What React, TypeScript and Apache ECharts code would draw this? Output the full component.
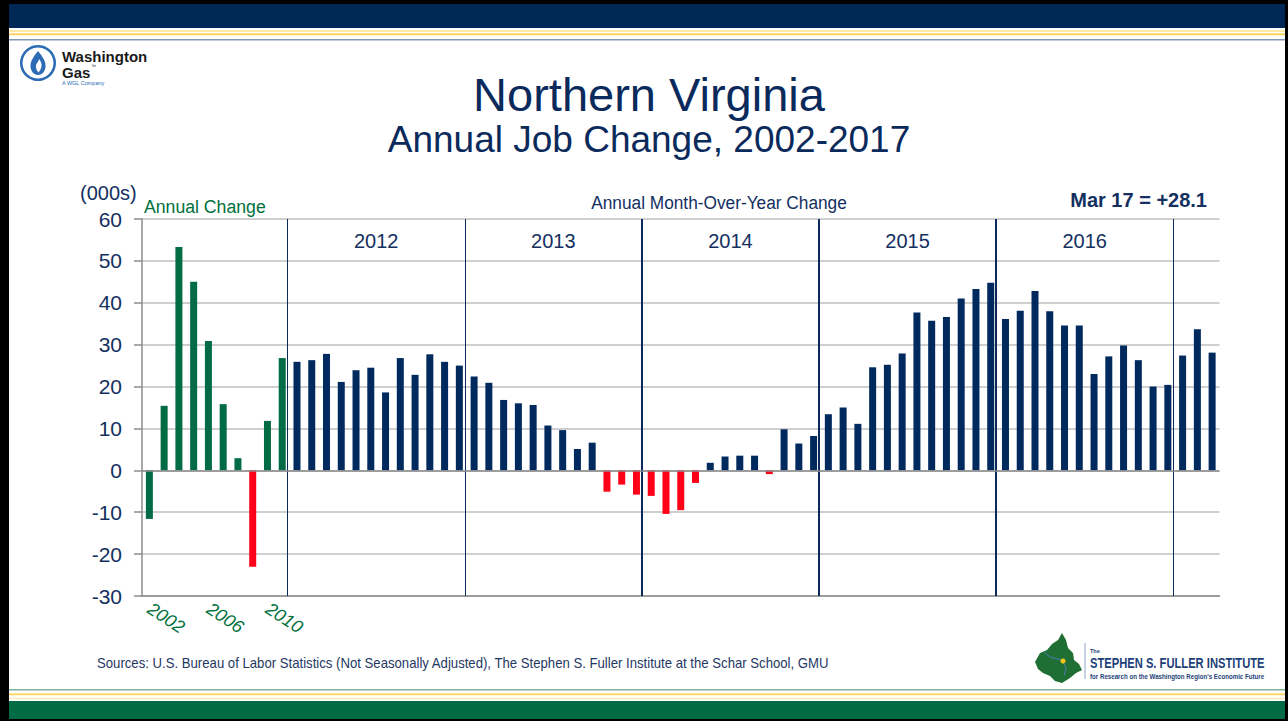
import React, { useEffect, useRef } from "react";
import * as echarts from "echarts";

// ---------- data ----------
const annualYears = ["2002", "2003", "2004", "2005", "2006", "2007", "2008", "2009", "2010", "2011"];
const annualValues = [-11.6, 15.4, 53.3, 45.0, 30.9, 15.8, 2.9, -23.0, 11.8, 26.8];
const redAnnualYears = ["2009"];
const labeledYears = ["2002", "2006", "2010"];

const monthNames = ["Jan", "Feb", "Mar", "Apr", "May", "Jun", "Jul", "Aug", "Sep", "Oct", "Nov", "Dec"];
const monthly2012 = [25.9, 26.3, 27.8, 21.1, 23.9, 24.5, 18.6, 26.8, 22.8, 27.7, 25.9, 25.0];
const monthly2013 = [22.4, 20.9, 16.8, 16.0, 15.6, 10.7, 9.6, 5.1, 6.6, -5.1, -3.4, -5.8];
const monthly2014 = [-6.1, -10.4, -9.5, -3.0, 1.8, 3.3, 3.5, 3.5, -0.9, 9.8, 6.4, 8.2];
const monthly2015 = [13.4, 15.0, 11.1, 24.6, 25.2, 27.9, 37.7, 35.7, 36.6, 41.0, 43.3, 44.8];
const monthly2016 = [36.1, 38.1, 42.8, 38.0, 34.6, 34.6, 23.0, 27.2, 29.8, 26.3, 20.0, 20.4];
const monthly2017 = [27.4, 33.7, 28.1];
const monthlyYears = ["2012", "2013", "2014", "2015", "2016", "2017"];
const monthlySeries = [monthly2012, monthly2013, monthly2014, monthly2015, monthly2016, monthly2017];
const sectionLabels = ["2012", "2013", "2014", "2015", "2016"];

const yTicks = { min: -30, max: 60, interval: 10 };

// ---------- styles ----------
const NAVY = "#002a5e";
const TXT = "#13305f";
const GREEN = "#006b45";
const RED = "#ff0019";
const FONT = "'Liberation Sans', Arial, sans-serif";

export default function App() {
  const ref = useRef<HTMLDivElement>(null);

  useEffect(() => {
    document.body.style.margin = "0";
    if (!ref.current) return;
    const chart = echarts.init(ref.current, undefined, { renderer: "svg" });

    const categories: string[] = [...annualYears];
    const barData: any[] = annualValues.map((v, i) => ({
      value: v,
      itemStyle: { color: redAnnualYears.includes(annualYears[i]) ? RED : GREEN },
    }));
    monthlySeries.forEach((arr, yi) => {
      arr.forEach((v, mi) => {
        categories.push(monthNames[mi] + " " + monthlyYears[yi]);
        barData.push({ value: v, itemStyle: { color: v < 0 ? RED : NAVY } });
      });
    });
    const total = categories.length;

    const off = -0.13;
    const boundaries: number[] = [];
    for (let k = 0; k < monthlySeries.length; k++) {
      boundaries.push(annualYears.length + 12 * k + off);
    }
    const sepWidths = [1, 1, 2, 2, 2, 1];

    const sepLines: any[] = boundaries.map((b, i) => ({
      xAxis: b,
      lineStyle: { color: "#0b2a5c", width: sepWidths[i] ?? 1, type: "solid" },
    }));
    sepLines.push({ yAxis: 0, lineStyle: { color: "#8c8c8c", width: 1.5, type: "solid" } });

    const areas = sectionLabels.map((name, i) => [
      { xAxis: boundaries[i], name },
      { xAxis: boundaries[i + 1] },
    ]);

    const txt = (text: string, x: number, y: number, o: any = {}) => ({
      type: "text",
      x,
      y,
      scaleX: o.scaleX ?? 1,
      style: {
        text,
        fontSize: o.size ?? 14,
        fontFamily: FONT,
        fontWeight: o.weight ?? "normal",
        fontStyle: o.style ?? "normal",
        fill: o.color ?? TXT,
        align: o.align ?? "left",
        verticalAlign: "middle",
        textAlign: o.align ?? "left",
        textVerticalAlign: "middle",
      },
      z: 10,
    });

    echarts.graphic.registerShape(
      "wgFlame",
      echarts.graphic.extendPath(
        "M0,-12 C5,-6 8,-1 7.5,4 C7,9 3.5,12 0,12 C-3.5,12 -7,9 -7.5,4 C-8,-1 -5,-6 0,-12 Z",
        {}
      )
    );
    echarts.graphic.registerShape(
      "wgInner",
      echarts.graphic.extendPath("M1,-5 C4.5,-1 4.5,4 0.5,8.5 C-2,5.5 -3,2 -1,-1 C0,-2.5 1,-3.5 1,-5 Z", {})
    );

    const option: any = {
      animation: false,
      backgroundColor: "#000000",
      grid: { left: 142, right: 68.5, top: 219, bottom: 125, containLabel: false },
      xAxis: [
        {
          type: "category",
          data: categories,
          boundaryGap: true,
          axisLine: { show: true, onZero: false, lineStyle: { color: "#8c8c8c", width: 1.5 } },
          axisTick: { show: false },
          splitLine: { show: false },
          axisLabel: {
            interval: (idx: number) => labeledYears.includes(categories[idx]),
            rotate: -33,
            margin: 11,
            color: "#00703c",
            fontSize: 18,
            fontStyle: "italic",
            fontFamily: FONT,
          },
        },
        { type: "value", min: 0, max: total, show: false },
      ],
      yAxis: {
        type: "value",
        min: yTicks.min,
        max: yTicks.max,
        interval: yTicks.interval,
        axisLine: { show: true, lineStyle: { color: "#8c8c8c", width: 1.5 } },
        axisTick: { show: true, length: 8, lineStyle: { color: "#8c8c8c", width: 1.5 } },
        splitLine: { show: true, lineStyle: { color: "#bfbfbf", width: 1.5 } },
        axisLabel: { color: TXT, fontSize: 21, fontFamily: FONT, margin: 20 },
      },
      series: [
        {
          type: "line",
          xAxisIndex: 1,
          yAxisIndex: 0,
          data: [],
          z: 1,
          markLine: {
            silent: true,
            symbol: "none",
            label: { show: false },
            data: sepLines,
          },
          markArea: {
            silent: true,
            itemStyle: { color: "rgba(0,0,0,0)" },
            label: { show: true, position: "insideTop", distance: 12, color: TXT, fontSize: 20, fontFamily: FONT },
            data: areas,
          },
        },
        {
          type: "bar",
          xAxisIndex: 0,
          yAxisIndex: 0,
          data: barData,
          barWidth: 7,
          z: 3,
        },
      ],
      graphic: [
        { type: "rect", shape: { x: 9, y: 4, width: 1276, height: 715 }, style: { fill: "#ffffff" }, z: -10 },
        { type: "rect", shape: { x: 9, y: 4, width: 1276, height: 24 }, style: { fill: "#002856" }, z: -9 },
        { type: "rect", shape: { x: 9, y: 30, width: 1276, height: 2 }, style: { fill: "#fde8a6" }, z: -9 },
        { type: "rect", shape: { x: 9, y: 33.3, width: 1276, height: 2 }, style: { fill: "#fcd460" }, z: -9 },
        { type: "rect", shape: { x: 9, y: 39, width: 1276, height: 1.5 }, style: { fill: "#8497b0" }, z: -9 },
        { type: "rect", shape: { x: 9, y: 689, width: 1276, height: 1.5 }, style: { fill: "#7fb39a" }, z: -9 },
        { type: "rect", shape: { x: 9, y: 693.3, width: 1276, height: 2 }, style: { fill: "#ffd966" }, z: -9 },
        { type: "rect", shape: { x: 9, y: 697.8, width: 1276, height: 1.5 }, style: { fill: "#fdeab0" }, z: -9 },
        { type: "rect", shape: { x: 9, y: 701, width: 1276, height: 18 }, style: { fill: "#006b44" }, z: -9 },

        // Washington Gas logo
        { type: "ring", shape: { cx: 38, cy: 63, r: 18, r0: 15.5 }, style: { fill: "#2b6cb5" }, z: 10 },
        { type: "wgFlame", x: 38, y: 63, style: { fill: "#2b6cb5" }, z: 10 },
        { type: "wgInner", x: 38, y: 64, style: { fill: "#ffffff" }, z: 11 },
        txt("Washington", 62, 56, { size: 15, weight: "bold", color: "#1a1a1a" }),
        txt("Gas", 62, 72, { size: 15, weight: "bold", color: "#1a1a1a" }),
        txt("™", 91, 66, { size: 5, color: "#1a1a1a" }),
        txt("A WGL Company", 62, 83, { size: 5.5, color: "#2b6cb5" }),

        // Titles
        txt("Northern Virginia", 649, 94, { size: 47, align: "center", color: "#0b2a5c" }),
        txt("Annual Job Change, 2002-2017", 649, 139, { size: 37, align: "center", color: "#0b2a5c" }),

        // Chart annotations
        txt("(000s)", 80, 193, { size: 20 }),
        txt("Annual Change", 144, 206, { size: 19, color: "#00703c", scaleX: 0.93 }),
        txt("Annual Month-Over-Year Change", 719, 203, { size: 18, align: "center", scaleX: 0.96 }),
        txt("Mar 17 = +28.1", 1207, 200, { size: 20, weight: "bold", align: "right" }),

        // Sources
        txt(
          "Sources: U.S. Bureau of Labor Statistics (Not Seasonally Adjusted), The Stephen S. Fuller Institute at the Schar School, GMU",
          97,
          663,
          { size: 14, scaleX: 0.94, color: "#1f3864" }
        ),

        // Fuller Institute logo
        {
          type: "polygon",
          shape: {
            points: [
              [1035, 662], [1040, 653], [1047, 650], [1052, 644], [1058, 640], [1062, 633],
              [1066, 640], [1068, 648], [1073, 653], [1074, 660], [1079, 664], [1082, 670],
              [1076, 673], [1070, 678], [1062, 683], [1055, 681], [1050, 676], [1043, 673], [1038, 669],
            ],
          },
          style: { fill: "#1f6f35" },
          z: 10,
        },
        {
          type: "polyline",
          shape: { points: [[1044, 652], [1050, 657], [1058, 659], [1063, 661], [1066, 668], [1064, 676]] },
          style: { stroke: "#4a78b8", lineWidth: 1, fill: "none" },
          z: 11,
        },
        { type: "circle", shape: { cx: 1063, cy: 661, r: 2.5 }, style: { fill: "#f5c518" }, z: 12 },
        { type: "line", shape: { x1: 1085, y1: 643, x2: 1085, y2: 679 }, style: { stroke: "#8da3c7", lineWidth: 1 }, z: 10 },
        txt("The", 1090, 651, { size: 5.5, weight: "bold", color: "#1d3f7a" }),
        txt("STEPHEN S. FULLER INSTITUTE", 1090, 664, { size: 14, weight: "bold", color: "#1d3f7a", scaleX: 0.8 }),
        txt("for Research on the Washington Region's Economic Future", 1090, 676, {
          size: 6.5,
          weight: "bold",
          color: "#1d3f7a",
          scaleX: 0.95,
        }),
      ],
    };

    chart.setOption(option);
    return () => chart.dispose();
  }, []);

  return <div ref={ref} style={{ width: 1288, height: 721 }} />;
}
